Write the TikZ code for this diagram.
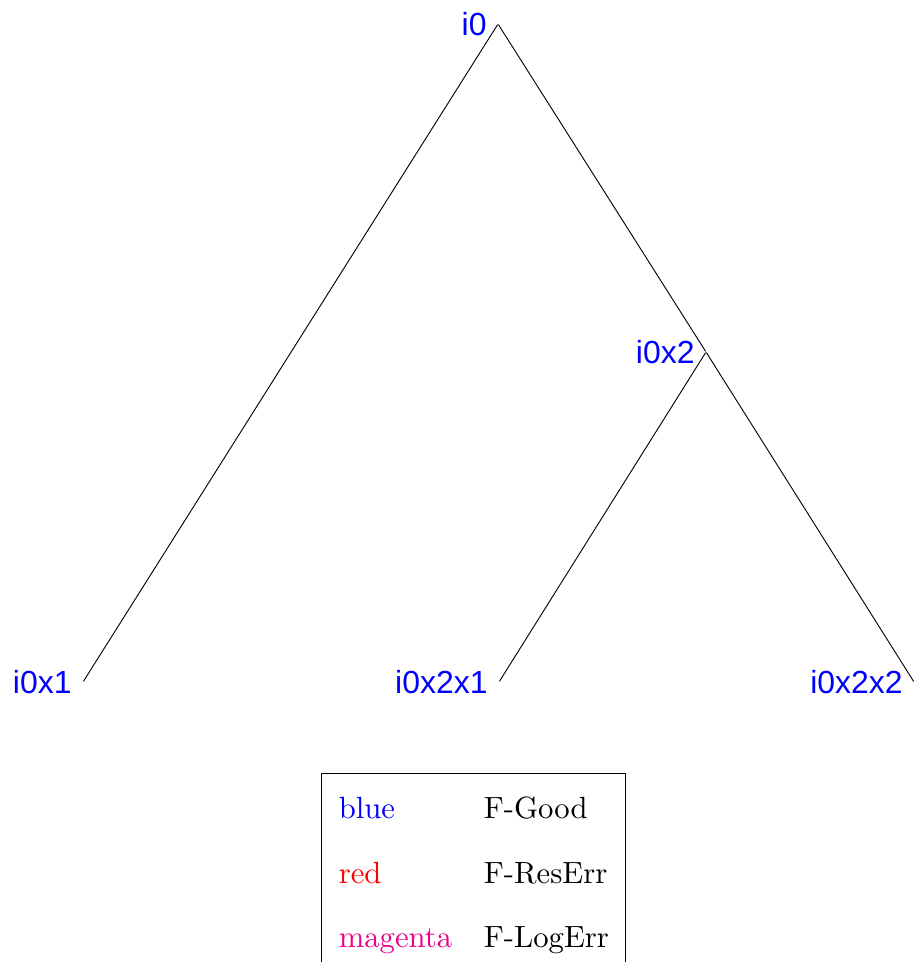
\documentclass[tikz,border=0pt]{standalone}
\usepackage{fontspec}
\newfontfamily\treefont{Liberation Sans}

\begin{document}
\begin{tikzpicture}[x=0.3257pt,y=-0.3257pt,
  vertex/.style={inner sep=0pt,minimum size=0pt},
  tag/.style={text=blue,font=\treefont\fontsize{10.4}{12}\selectfont},
  link/.style={line width=0.3pt}]
\useasboundingbox (0,0) rectangle (914,962);

\node[vertex,label={[tag]left:i0}] (i0) at (498,24) {};
\node[vertex,label={[tag]left:i0x2}] (i0x2) at (706,352) {};
\node[vertex,label={[tag]left:i0x1}] (i0x1) at (83,682) {};
\node[vertex,label={[tag]left:i0x2x1}] (i0x2x1) at (499,682) {};
\node[vertex,label={[tag]left:i0x2x2}] (i0x2x2) at (914,682) {};

\draw[link] (i0) -- (i0x1);
\draw[link] (i0) -- (i0x2);
\draw[link] (i0x2) -- (i0x2x1);
\draw[link] (i0x2) -- (i0x2x2);

\node[draw,line width=0.4pt,inner sep=0pt,anchor=north west] (legend) at (321,773) {%
  \renewcommand{\arraystretch}{1.75}%
  \begin{tabular}{@{\hspace{5.6pt}}l@{\hspace{10.3pt}}l@{\hspace{5.4pt}}}
    \textcolor{blue}{blue} & F-Good\\
    \textcolor{red}{red} & F-ResErr\\
    \textcolor{magenta}{magenta} & F-LogErr
  \end{tabular}};
\end{tikzpicture}
\end{document}
